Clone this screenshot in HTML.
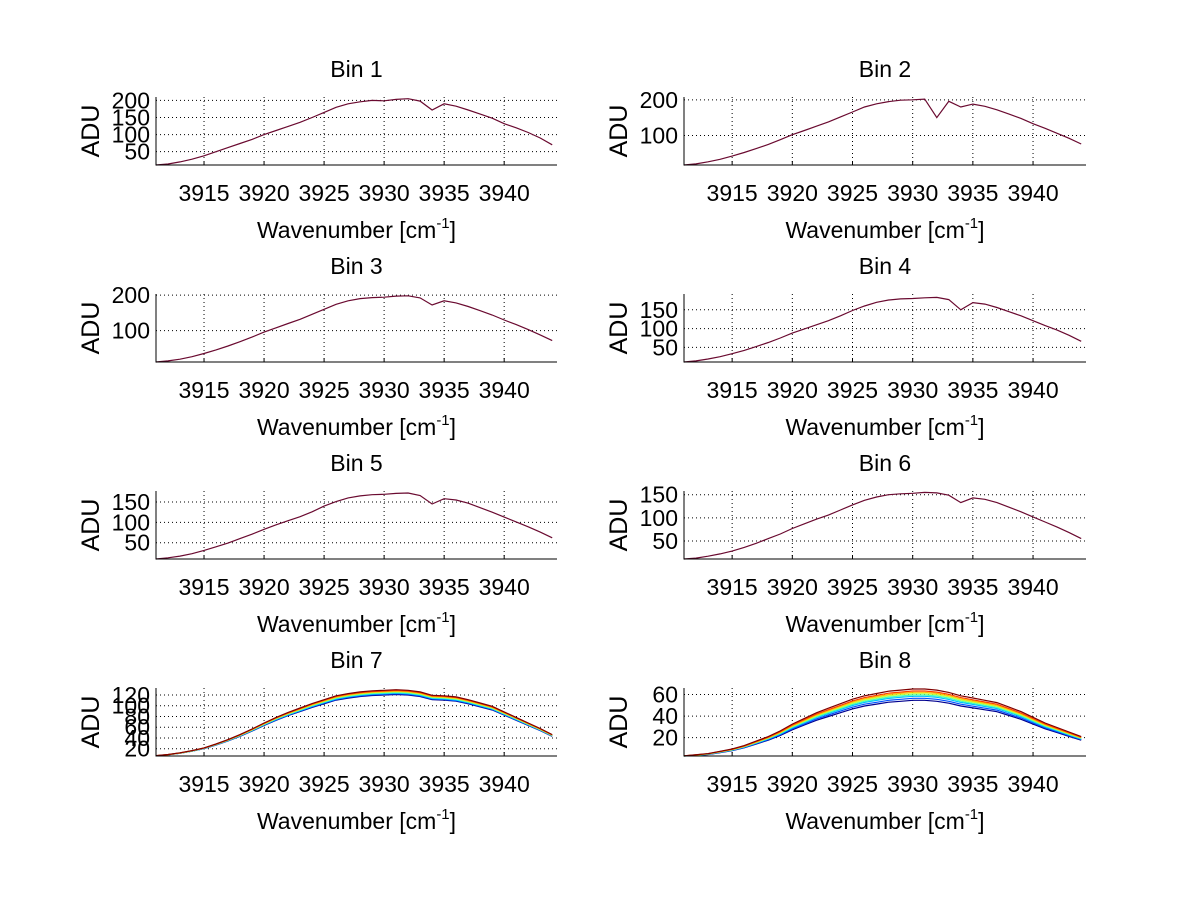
<!DOCTYPE html>
<html><head><meta charset="utf-8">
<style>
html,body{margin:0;padding:0;background:#fff;}
svg{display:block;font-family:"Liberation Sans",Arial,sans-serif;}
</style></head>
<body>
<svg id="fig" width="1200" height="901" viewBox="0 0 1200 901" xmlns="http://www.w3.org/2000/svg">
<rect width="1200" height="901" fill="#fff"/>
</svg>
<script>
const xStart = 3911;
const xTicks = [3915, 3920, 3925, 3930, 3935, 3940];
const binTitles = ["Bin 1","Bin 2","Bin 3","Bin 4","Bin 5","Bin 6","Bin 7","Bin 8"];
const yRanges = [[11,210],[17,208],[12,203],[11,192],[10,177],[11,158],[6.5,133],[3,66]];
const yTicks = [[50,100,150,200],[100,200],[100,200],[50,100,150],[50,100,150],[50,100,150],[20,40,60,80,100,120],[20,40,60]];
// values at wavenumber 3911..3944 step 1
const bin1 = [11,14,20,28,38,50,62,74,86,100,112,124,136,150,165,180,190,196,200,199,203,205,198,172,190,183,172,160,148,132,120,106,90,70];
const bin2 = [17,20,26,33,42,52,63,75,88,102,114,126,138,152,166,180,189,195,199,200,202,150,196,180,188,182,172,160,148,133,120,106,92,76];
const bin3 = [12,15,20,27,36,46,57,69,82,96,108,120,132,146,160,174,184,190,193,194,197,198,192,172,184,178,168,156,144,130,117,103,88,72];
const bin4 = [11,14,19,25,33,42,52,63,75,88,99,110,121,134,148,160,170,176,179,180,182,183,177,150,169,165,156,145,134,121,108,96,82,66];
const bin5 = [10,13,17,23,31,40,49,60,71,83,94,104,114,126,140,151,160,165,168,169,171,172,166,145,158,155,147,136,125,113,101,89,76,62];
const bin6 = [11,13,17,22,28,36,45,55,65,77,87,97,106,117,128,138,145,150,152,153,155,154,149,133,143,140,133,123,113,102,91,80,68,55];
const bin7 = [7,9,12,16,21,28,36,45,55,66,76,85,93,101,108,115,119,122,124,125,126,125,122,116,115,113,108,102,96,86,76,66,56,45];
const bin8 = [3,4,5,7,9,12,16,20,25,31,36,41,45,49,53,56,58,60,61,62,62,61,59,56,54,52,50,46,42,37,32,28,24,20];
const binValues = [bin1,bin2,bin3,bin4,bin5,bin6,bin7,bin8];
const seriesColors = ["#00008f","#0050ff","#00c0ff","#40ffbf","#c0ff40","#ffc000","#ff4000","#800000"];
const seriesScale7 = [0.96,0.97,0.98,0.99,1.0,1.01,1.02,1.03];
const seriesScale8 = [0.88,0.91,0.94,0.96,0.98,1.0,1.02,1.05];

const NS="http://www.w3.org/2000/svg";
const svg=document.getElementById('fig');
function mk(tag,attrs,parent){const e=document.createElementNS(NS,tag);for(const k in attrs)e.setAttribute(k,attrs[k]);(parent||svg).appendChild(e);return e;}

binValues.forEach((vals,i)=>{
  const col=i%2,row=Math.floor(i/2);
  const L=col?684:156, R=col?1086:557;
  const T=97+197*row, B=165+197*row;
  const xmin=xStart, xmax=3944.4;
  const [ymin,ymax]=yRanges[i];
  const xs=v=>L+(v-xmin)/(xmax-xmin)*(R-L);
  const ys=v=>B-(v-ymin)/(ymax-ymin)*(B-T);
  const g=mk('g',{});
  
  
  xTicks.forEach(t=>{
    const l=mk('line',{x1:xs(t),x2:xs(t),y1:T,y2:B,stroke:'#000','stroke-width':1,'stroke-dasharray':'1,3'},g);
    
    
    const tk=mk('line',{x1:xs(t),x2:xs(t),y1:B,y2:B-4,stroke:'#000','stroke-width':1},g);
    
    
    const tx=mk('text',{x:xs(t),y:B+36,'font-size':23,'text-anchor':'middle',fill:'#000'},g);
    tx.textContent=t;
    
    
  });
  yTicks[i].forEach(t=>{
    const l=mk('line',{x1:L,x2:R,y1:ys(t),y2:ys(t),stroke:'#000','stroke-width':1,'stroke-dasharray':'1,3'},g);
    
    
    const tx=mk('text',{x:L-6,y:ys(t)+8,'font-size':23,'text-anchor':'end',fill:'#000'},g);
    tx.textContent=t;
    
    
  });
  let scales=[1], colors=["#6a0a30"];
  if(i===6){scales=seriesScale7;colors=seriesColors;}
  if(i===7){scales=seriesScale8;colors=seriesColors;}
  scales.forEach((s,k)=>{
    const pts=vals.map((v,j)=>xs(xStart+j).toFixed(1)+','+ys(Math.max(ymin,v*s)).toFixed(1)).join(' ');
    const p=mk('polyline',{points:pts,fill:'none',stroke:colors[k],'stroke-width':1.2},g);
    
    
  });
  const ax=mk('path',{d:`M${L},${T} L${L},${B} L${R},${B}`,fill:'none',stroke:'#000','stroke-width':1},g);
  
  
  const ti=mk('text',{x:(L+R)/2,y:T-20,'font-size':23,'text-anchor':'middle',fill:'#000'},g);
  ti.textContent=binTitles[i];
  
  
  const xl=mk('text',{x:(L+R)/2,y:B+73,'font-size':23,'text-anchor':'middle',fill:'#000'},g);
  xl.innerHTML='Wavenumber [cm<tspan dy="-10" font-size="15">-1</tspan><tspan dy="10">]</tspan>';
  
  
  const yl=mk('text',{x:0,y:0,'font-size':25,'text-anchor':'middle',fill:'#000',transform:`translate(${L-57},${(T+B)/2}) rotate(-90)`},g);
  yl.textContent='ADU';
  
  
});
</script>
</body></html>
